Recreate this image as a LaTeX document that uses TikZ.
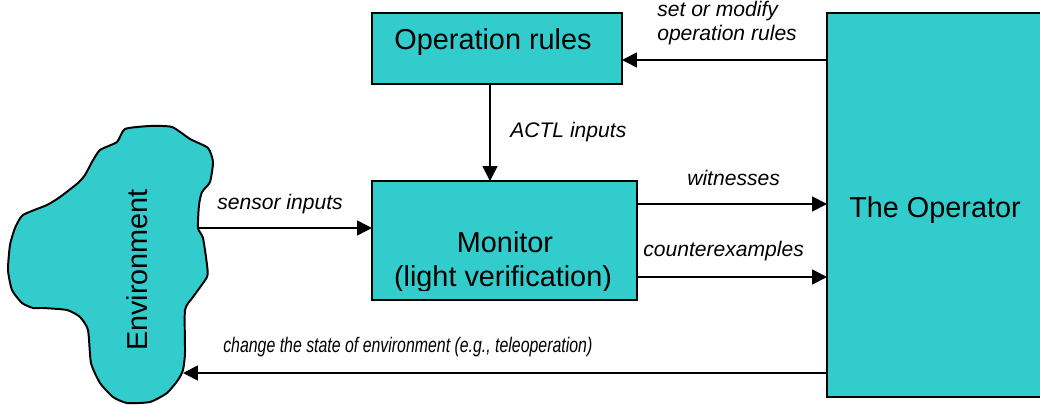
\documentclass[tikz,border=0pt]{standalone}
\usepackage{fontspec}
\setmainfont{Liberation Sans}
\usetikzlibrary{arrows.meta}
\definecolor{teal}{RGB}{51,204,204}
\begin{document}
\begin{tikzpicture}[x=0.025cm,y=-0.025cm,
  box/.style={draw=black,fill=teal,line width=1.4pt,inner sep=0pt,outer sep=0pt},
  arr/.style={line width=1.3pt,-{Triangle[length=10.5pt,width=10.5pt]}},
  big/.style={font=\fontsize{20.5}{24}\selectfont,inner sep=0pt},
  lab/.style={font=\fontsize{15}{17}\selectfont\itshape,inner sep=0pt,anchor=base west}]
\useasboundingbox (0,0) rectangle (1040,405);
% boxes
\node[box,minimum width=6.25cm,minimum height=1.775cm] (rules) at (497,48.5) {};
\node[box,minimum width=6.625cm,minimum height=2.975cm] (monitor) at (504.5,240.5) {};
\node[box,minimum width=5.45cm,minimum height=9.6cm] (oper) at (936,205) {};
% environment blob
\draw[fill=teal,line width=1.4pt] plot[smooth cycle,tension=0.35] coordinates {
 (125,129) (150,126) (172,127) (190,139) (208,148) (213,162) (210,182)
 (202,192) (199,205) (198,228) (203,238) (207,265) (207,277) (193,297)
 (185,310) (185,353) (183,370) (178,380) (167,393) (150,402) (127,403)
 (113,397) (100,383) (91,363) (88,330) (80,317) (67,310) (43,308)
 (33,308) (22,303) (12,290) (8,270) (10,245) (15,228) (23,215) (47,205)
 (60,197) (78,183) (85,175) (92,162) (100,150) (117,142)};
\coordinate (envS) at (198,228);
\coordinate (envE) at (183,373);
% texts
\node[big,anchor=base] (trules) at (493,50) {Operation rules};
\node[big,anchor=base] (tmon1) at (505,253) {Monitor};
\begin{scope}
\clip (372,181) rectangle (637,290.5);
\node[big,anchor=base] (tmon2) at (503,287) {(light verification)};
\end{scope}
\node[big,anchor=base] (toper) at (935,218) {The Operator};
\node[big,anchor=base,rotate=90] (tenv) at (147,270) {Environment};
% helper coordinates
\coordinate (yA) at (0,60);
\coordinate (xV) at (490,0);
\coordinate (yW) at (0,204);
\coordinate (yC) at (0,277);
% connectors
\draw[arr] (oper.west |- yA) -- (rules.east |- yA);
\draw[arr] (rules.south -| xV) -- (monitor.north -| xV);
\draw[arr] (envS) -- (monitor.west |- envS);
\draw[arr] (monitor.east |- yW) -- (oper.west |- yW);
\draw[arr] (monitor.east |- yC) -- (oper.west |- yC);
\draw[arr] (oper.west |- envE) -- (envE);
% labels
\node[lab] (l1) at (657,17) {set or modify};
\node[lab] (l2) at (657,41) {operation rules};
\node[lab] (l3) at (510,138) {ACTL inputs};
\node[lab] (l4) at (217,210) {sensor inputs};
\node[lab] (l5) at (687,186) {witnesses};
\node[lab] (l6) at (643,257) {counterexamples};
\node[lab] (l7) at (223,353) {\scalebox{0.753}[1]{change the state of environment (e.g., teleoperation)}};
\end{tikzpicture}
\end{document}
